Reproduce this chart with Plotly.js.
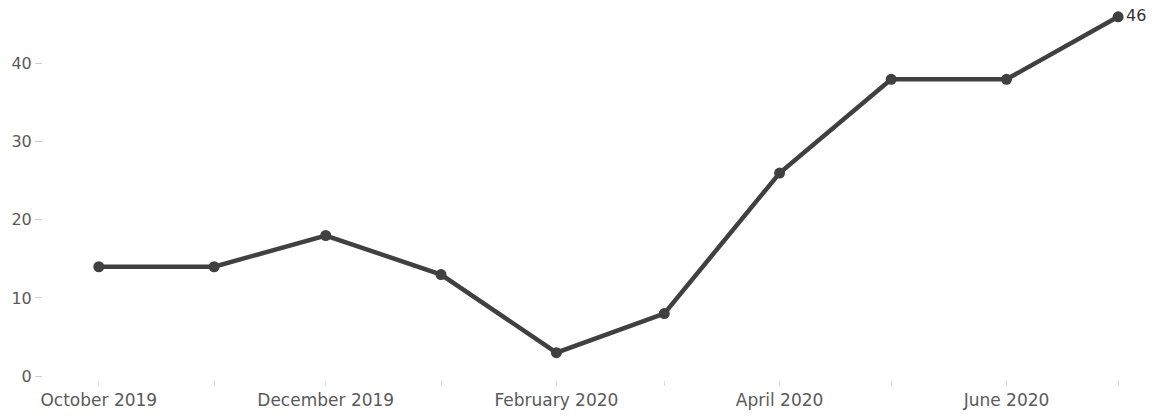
<!DOCTYPE html>
<html><head><meta charset="utf-8">
<script src="https://cdn.plot.ly/plotly-3.0.1.min.js"></script>
<style>html,body{margin:0;padding:0;background:#fff;}#chart{width:1153px;height:417px;}</style>
</head><body><div id="chart"></div>
<script>
const months = ['2019-10-01','2019-11-01','2019-12-01','2020-01-01','2020-02-01','2020-03-01','2020-04-01','2020-05-01','2020-06-01','2020-07-01'];
const values = [14, 14, 18, 13, 3, 8, 26, 38, 38, 46];
const labels = values.map((v, i) => i === values.length - 1 ? String(v) : '');

const FONT = 'DejaVu Sans, Verdana, sans-serif';
const trace = {
  x: months, y: values, type: 'scatter', mode: 'lines+markers+text',
  line: {color: '#404040', width: 4.5},
  marker: {color: '#404040', size: 11},
  text: labels, textposition: 'middle right',
  textfont: {family: FONT, size: 16, color: '#333'},
  cliponaxis: false, hoverinfo: 'x+y'
};
const layout = {
  width: 1153, height: 417,
  margin: {l: 43, r: 20, t: 9, b: 37},
  paper_bgcolor: '#fff', plot_bgcolor: '#fff',
  font: {family: FONT, size: 16, color: '#5a5a5a'},
  showlegend: false,
  xaxis: {
    type: 'date', range: ['2019-09-16', '2020-07-05'],
    tick0: '2019-10-01', dtick: 'M2', tickformat: '%B %Y',
    ticks: 'outside', ticklen: 5, tickcolor: '#ddd', tickwidth: 1,
    minor: {dtick: 'M1', ticks: 'outside', ticklen: 5, tickcolor: '#ddd'},
    showgrid: false, zeroline: false, showline: false,
    tickfont: {family: FONT, size: 17, color: '#5a5a5a'}
  },
  yaxis: {
    range: [-0.5, 47], tickvals: [0, 10, 20, 30, 40],
    ticks: 'outside', ticklen: 7, tickcolor: '#ccc', tickwidth: 1,
    showgrid: false, zeroline: false, showline: false,
    tickfont: {family: FONT, size: 16, color: '#5a5a5a'}
  }
};
Plotly.newPlot('chart', [trace], layout, {displayModeBar: false, staticPlot: true});
</script></body></html>
